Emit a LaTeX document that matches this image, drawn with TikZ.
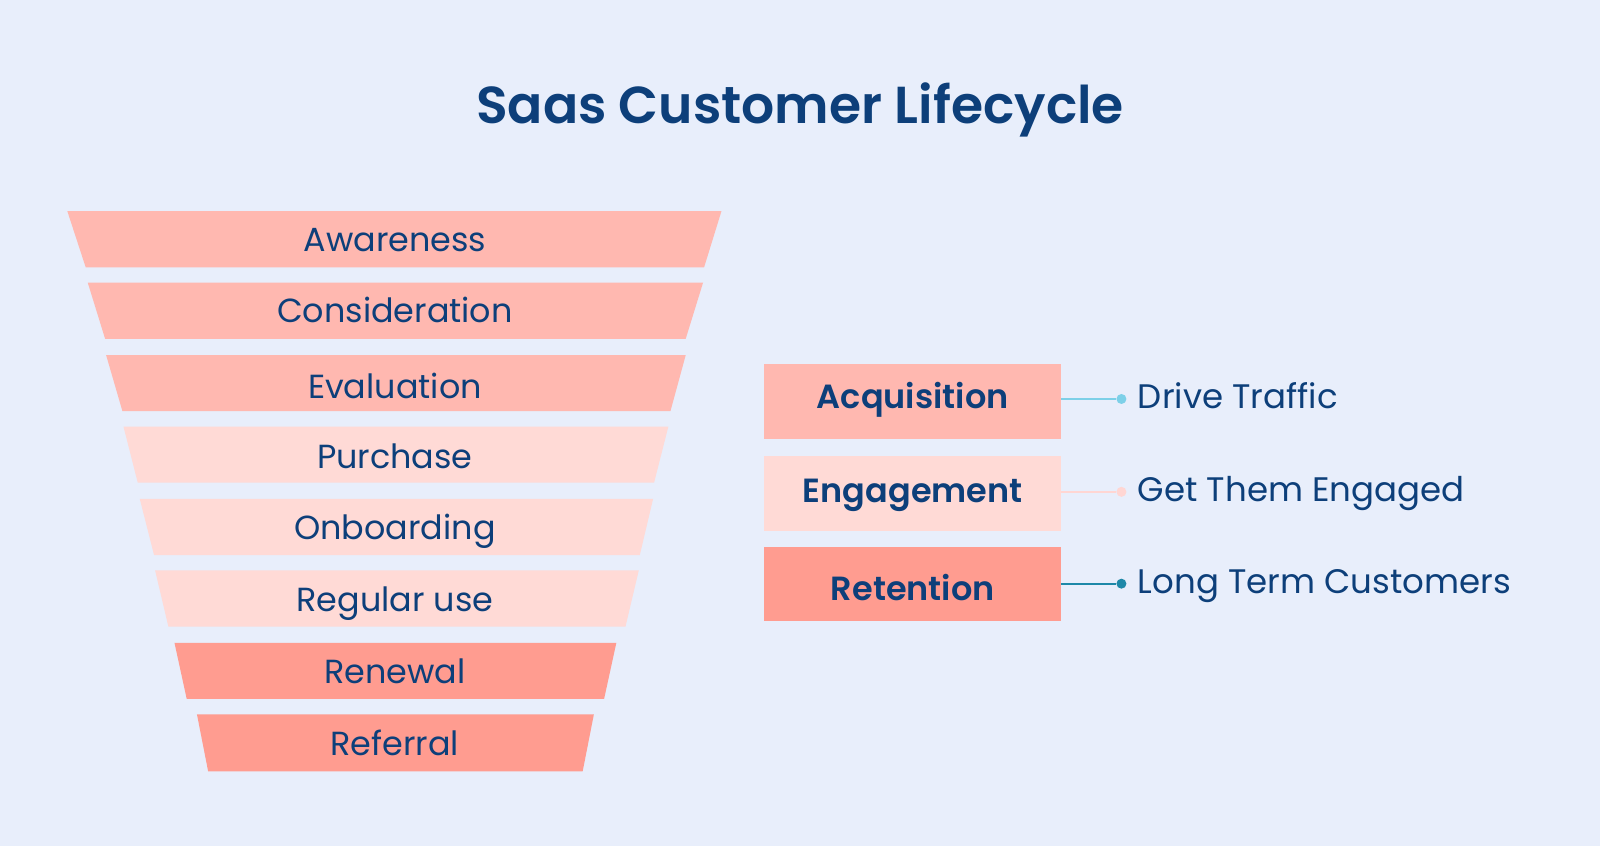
\documentclass[tikz,border=0pt]{standalone}
\usepackage{fontspec}
\setmainfont{Poppins}
\newfontfamily\semib{Poppins SemiBold}
\definecolor{bg}{HTML}{E8EEFB}
\definecolor{txt}{HTML}{0D3F7A}
\definecolor{bandA}{HTML}{FFB8B0}
\definecolor{bandB}{HTML}{FFDAD6}
\definecolor{bandC}{HTML}{FF9C90}
\definecolor{lnA}{HTML}{7DD0E8}
\definecolor{lnB}{HTML}{FFD6D3}
\definecolor{lnC}{HTML}{1E88A8}
\tikzset{
  bandlabel/.style={text=txt, font=\fontsize{33.4}{34}\selectfont, text height=23.3pt, text depth=0pt, inner sep=0pt, anchor=center},
  phasebox/.style={minimum width=297pt, minimum height=74.5pt, inner sep=0pt},
  phaselabel/.style={text=txt, font=\fontsize{33.5}{34}\semib, text height=23.4pt, text depth=0pt, inner sep=0pt},
  desc/.style={text=txt, font=\fontsize{34}{34}\selectfont, anchor=west, inner sep=0pt, text height=23.7pt, text depth=0pt},
  dot/.style={circle, inner sep=0pt, minimum size=10pt},
}
\begin{document}
\begin{tikzpicture}[x=1.0204pt,y=-1.0204pt]
\fill[bg] (0,0) rectangle (1568,829.1);
\useasboundingbox (0,0) rectangle (1568,829.1);
\node[text=txt, font=\fontsize{52}{52}\semib, text height=36.4pt, text depth=0pt, inner sep=0pt] (title) at (784,103) {Saas Customer Lifecycle};
% funnel bands
\fill[bandA] (66,207) -- (707,207) -- (690,262) -- (84,262) -- cycle;
\fill[bandA] (86,277) -- (689,277) -- (672,332) -- (103,332) -- cycle;
\fill[bandA] (104,348) -- (672,348) -- (657,403) -- (120,403) -- cycle;
\fill[bandB] (121,418) -- (655,418) -- (641,473) -- (135,473) -- cycle;
\fill[bandB] (137,489) -- (640,489) -- (627,544) -- (151,544) -- cycle;
\fill[bandB] (152,559) -- (626,559) -- (613,614) -- (165,614) -- cycle;
\fill[bandC] (171,630) -- (604,630) -- (592,685) -- (183,685) -- cycle;
\fill[bandC] (193,700) -- (582,700) -- (571,756) -- (204,756) -- cycle;
\node[bandlabel] (aw) at (387,235) {Awareness};
\node[bandlabel] (co) at (387,305) {Consideration};
\node[bandlabel] (ev) at (387,379) {Evaluation};
\node[bandlabel] (pu) at (387,448) {Purchase};
\node[bandlabel] (on) at (387,517) {Onboarding};
\node[bandlabel] (ru) at (387,588) {Regular use};
\node[bandlabel] (rn) at (387,658) {Renewal};
\node[bandlabel] (rf) at (387,729) {Referral};
% phases
\node[phasebox, fill=bandA] (acq) at (894.5,393.5) {};
\node[phasebox, fill=bandB] (eng) at (894.5,483.5) {};
\node[phasebox, fill=bandC] (ret) at (894.5,572.5) {};
\node[phaselabel] (acqt) at (894.5,389) {Acquisition};
\node[phaselabel] (engt) at (894.5,481) {Engagement};
\node[phaselabel] (rett) at (894.5,577) {Retention};
\node[dot, fill=lnA] (d1) at (1099,391) {};
\node[dot, fill=lnB] (d2) at (1099,482) {};
\node[dot, fill=lnC] (d3) at (1099,572) {};
\draw[lnA, line width=2pt] (acq.east |- d1) -- (d1);
\draw[lnB, line width=2pt] (eng.east |- d2) -- (d2);
\draw[lnC, line width=2pt] (ret.east |- d3) -- (d3);
\node[desc] (t1) at (1115,389) {Drive Traffic};
\node[desc] (t2) at (1115,480) {Get Them Engaged};
\node[desc] (t3) at (1115,570) {Long Term Customers};
\end{tikzpicture}
\end{document}
